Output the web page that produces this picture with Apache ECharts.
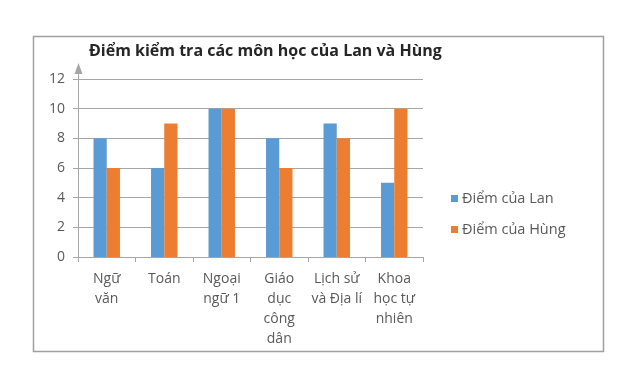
<!DOCTYPE html>
<html><head><meta charset="utf-8">
<script src="https://cdn.jsdelivr.net/npm/echarts@6/dist/echarts.min.js"></script>
<style>html,body{margin:0;padding:0;background:#fff}#c{width:637px;height:380px}</style>
</head><body><div id="c"></div>
<script>
const title = 'Điểm kiểm tra các môn học của Lan và Hùng';
const categories = ['Ngữ\nvăn', 'Toán', 'Ngoại\nngữ 1', 'Giáo\ndục\ncông\ndân', 'Lịch sử\nvà Địa lí', 'Khoa\nhọc tự\nnhiên'];
const seriesNames = ['Điểm của Lan', 'Điểm của Hùng'];
const lanScores = [8, 6, 10, 8, 9, 5];
const hungScores = [6, 9, 10, 6, 8, 10];
const yMin = 0, yMax = 12, yStep = 2;

const FONT = 'Open Sans';
const chart = echarts.init(document.getElementById('c'), null, {renderer: 'canvas'});
chart.setOption({
  backgroundColor: '#fff',
  animation: false,
  title: {
    text: title, left: 84, top: 38,
    textStyle: {fontFamily: FONT, fontSize: 16, fontWeight: 'bold', color: '#262626'}
  },
  legend: {
    orient: 'vertical', left: 446, top: 186,
    itemWidth: 7, itemHeight: 7, itemGap: 16,
    icon: 'rect',
    textStyle: {fontFamily: FONT, fontSize: 14.5, color: '#595959', padding: [0, 0, 0, -1]},
    data: seriesNames
  },
  grid: {left: 78, right: 214, top: 79, bottom: 123, containLabel: false},
  xAxis: {
    type: 'category', data: categories,
    axisLine: {lineStyle: {color: '#a6a6a6', width: 1}},
    axisTick: {show: true, alignWithLabel: false, length: 5, lineStyle: {color: '#a6a6a6'}},
    axisLabel: {fontFamily: FONT, fontSize: 14, color: '#595959', lineHeight: 20, margin: 12, interval: 0, verticalAlign: 'top'}
  },
  yAxis: {
    type: 'value', min: yMin, max: yMax, interval: yStep,
    axisLine: {show: true, lineStyle: {color: '#a6a6a6', width: 1}},
    axisTick: {show: true, length: 5, lineStyle: {color: '#a6a6a6'}},
    splitLine: {lineStyle: {color: '#a6a6a6', width: 1}},
    axisLabel: {fontFamily: FONT, fontSize: 14, color: '#595959', margin: 13}
  },
  series: [
    {name: seriesNames[0], type: 'bar', data: lanScores, barGap: '0%', barCategoryGap: '54%', itemStyle: {color: '#5B9BD5'}},
    {name: seriesNames[1], type: 'bar', data: hungScores, itemStyle: {color: '#ED7D31'}}
  ]
});
// frame and y-axis arrow extension
const yTop = chart.convertToPixel({yAxisIndex: 0}, yMax);
chart.setOption({
  graphic: [
    {type: 'rect', shape: {x: 33.5, y: 36.5, width: 570, height: 315}, style: {fill: 'none', stroke: '#a0a0a0', lineWidth: 1.5}, z: 0},
    {type: 'line', shape: {x1: 78.5, y1: yTop, x2: 78.5, y2: yTop - 12}, style: {stroke: '#a6a6a6', lineWidth: 1}},
    {type: 'polygon', shape: {points: [[78.5, yTop - 16], [74.5, yTop - 5], [82.5, yTop - 5]]}, style: {fill: '#a6a6a6'}}
  ]
});
</script></body></html>
